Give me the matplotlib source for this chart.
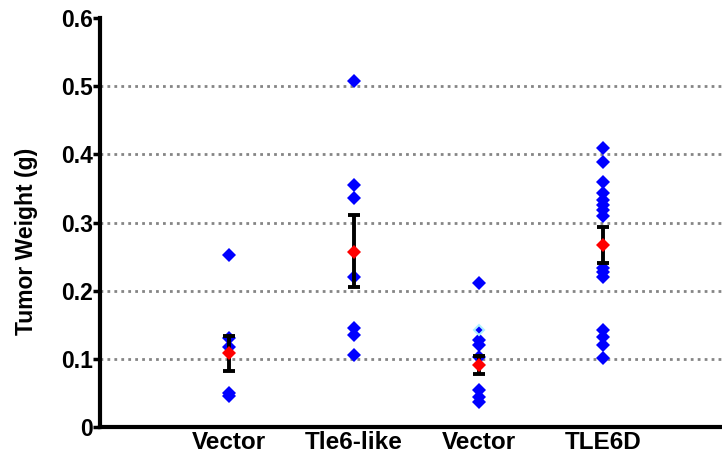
import matplotlib
matplotlib.use('Agg')
import matplotlib.pyplot as plt

plt.rcParams['font.family'] = ['Liberation Sans', 'DejaVu Sans']
plt.rcParams['font.weight'] = 'bold'

groups = ['Vector', 'Tle6-like', 'Vector', 'TLE6D']
points = [
    [0.252, 0.13, 0.118, 0.05, 0.046],
    [0.507, 0.355, 0.336, 0.22, 0.145, 0.135, 0.106],
    [0.211, 0.127, 0.12, 0.103, 0.054, 0.044, 0.037],
    [0.41, 0.389, 0.36, 0.343, 0.333, 0.325, 0.318, 0.309,
     0.233, 0.228, 0.22, 0.142, 0.132, 0.12, 0.101],
]
faint_pt = (2, 0.142)  # small light point in the 2nd Vector group
means = [0.108, 0.257, 0.091, 0.267]
err_low = [0.082, 0.205, 0.078, 0.240]
err_high = [0.133, 0.311, 0.104, 0.293]
yticks = [0, 0.1, 0.2, 0.3, 0.4, 0.5, 0.6]
ytick_labels = ['0', '0.1', '0.2', '0.3', '0.4', '0.5', '0.6']

fig = plt.figure(figsize=(7.22, 4.57), dpi=100)
ax = fig.add_axes([0.1385, 0.0656, 0.8615, 0.895])

for y in yticks[1:-1]:
    ax.axhline(y, color='#858585', linestyle=(0, (1, 1.5)), linewidth=2, zorder=1)

for i, vals in enumerate(points):
    ax.plot([i] * len(vals), vals, 'D', color='#0000ff', markersize=7.5,
            markeredgewidth=0, zorder=3)
    ax.errorbar(i, means[i],
                yerr=[[means[i] - err_low[i]], [err_high[i] - means[i]]],
                fmt='none', ecolor='black', elinewidth=2.8, capsize=4,
                capthick=2.8, zorder=4)
    ax.plot(i, means[i], 'D', color='#ff0000', markersize=7.5,
            markeredgewidth=0, zorder=5)

ax.plot(faint_pt[0], faint_pt[1], 'D', color='#0000ff', markersize=5,
        markeredgecolor='#b0f0ff', markeredgewidth=1.5, zorder=3)

ax.set_xlim(-1.034, 3.95)
ax.set_ylim(0, 0.6)
ax.set_xticks(range(len(groups)))
ax.set_xticklabels(groups, fontsize=17.5, fontweight='bold')
ax.set_yticks(yticks)
ax.set_yticklabels(ytick_labels, fontsize=16.5, fontweight='bold')
ax.tick_params(axis='x', length=0, pad=3)
ax.tick_params(axis='y', length=5, width=2.5, pad=0)
ax.set_ylabel('Tumor Weight (g)', fontsize=16.5, fontweight='bold')
ax.yaxis.set_label_coords(-0.1, 0.455)

for s in ['top', 'right']:
    ax.spines[s].set_visible(False)
for s in ['left', 'bottom']:
    ax.spines[s].set_linewidth(3)

fig.savefig('out.png', dpi=100)
